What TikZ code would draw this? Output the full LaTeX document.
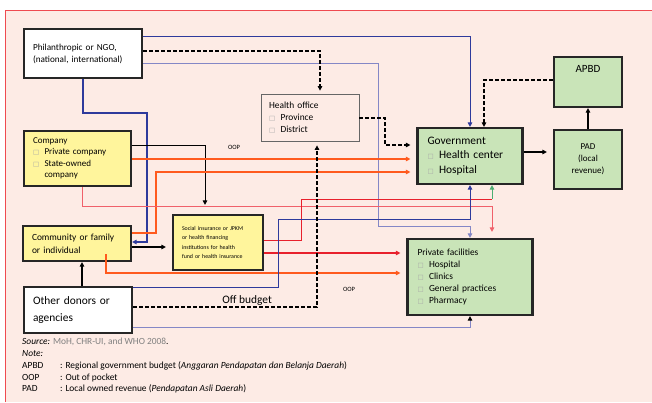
\documentclass[tikz,border=0pt]{standalone}
\usepackage{fontspec}
\setmainfont{Carlito}
\newfontfamily\symfont{DejaVu Sans}
\usetikzlibrary{arrows.meta,positioning}
\definecolor{bgpink}{HTML}{FDEBE5}
\definecolor{framered}{HTML}{EF4A50}
\definecolor{ylw}{HTML}{FFF59C}
\definecolor{grn}{HTML}{C9E4B8}
\definecolor{dblue}{HTML}{2E3A9C}
\definecolor{lblue}{HTML}{8487C6}
\definecolor{orng}{HTML}{FF5A1E}
\definecolor{rd}{HTML}{E8202C}
\definecolor{lrd}{HTML}{F0606A}
\definecolor{garrow}{HTML}{4DAE72}
\definecolor{srcgray}{HTML}{808080}
\newcommand{\chk}{\makebox[11.5pt][l]{\symfont\fontsize{6.5}{6}\selectfont\color{black!35}□}}
\newcommand{\fs}[2]{\fontsize{#1}{#2}\selectfont}

\begin{document}
\begin{tikzpicture}[x=1pt,y=-1pt,>={Triangle[length=4.5pt,width=4.5pt]},
    box/.style={draw=black!85,line width=2.2pt,inner xsep=0pt,inner ysep=1pt,align=left},
    ybox/.style={box,fill=ylw},
    gbox/.style={box,fill=grn},
    wbox/.style={box,fill=white},
    dflow/.style={dashed,dash pattern=on 4pt off 2pt,line width=1.3pt},
    shortgap/.style={shorten >=6pt},
    oop/.style={font=\fs{6.5}{7}},
    notetext/.style={anchor=base west,inner sep=0pt,font=\fs{9.4}{10}}]
  \useasboundingbox (0,0) rectangle (652,402);
  \fill[white] (0,0) rectangle (652,402);
  \fill[bgpink] (5,10) rectangle (652,402);
  \draw[framered,line width=.9pt] (5,402) -- (5,10) -- (652,10);

  \node[wbox,minimum width=118,minimum height=49,text width=100,font=\fs{9.2}{12}] (NGO) at (83,53.5)
    {Philanthropic or NGO,\\(national, international)};
  \node[box,draw=black!60,line width=.8pt,fill=bgpink,minimum width=98,minimum height=47,text width=82,font=\fs{9.4}{12}] (HO) at (310,117.5)
    {Health office\\\chk Province\\\chk District};
  \node[ybox,minimum width=107,minimum height=55,text width=89,font=\fs{9}{11.5}] (CO) at (77.5,158.5)
    {Company\\\chk Private company\\\chk State-owned\\\hspace*{11.5pt}company};
  \node[gbox,minimum width=105,minimum height=56,text width=85,font=\fs{11.4}{14.5}] (GOV) at (470,156)
    {Government\\\chk Health center\\\chk Hospital};
  \node[gbox,minimum width=68,minimum height=50,
    label={[anchor=north,yshift=-6pt,font=\fs{11}{12}]north:APBD}] (APBD) at (588,82) {};
  \node[gbox,minimum width=68,minimum height=59,text width=50,align=center,font=\fs{9}{12}] (PAD) at (588,159.5)
    {PAD\\(local\\revenue)};
  \node[ybox,minimum width=108,minimum height=35,text width=90,font=\fs{9.4}{13}] (COM) at (77,243.5)
    {Community or family\\or individual};
  \node[ybox,minimum width=90,minimum height=55,text width=72,font=\fs{5.9}{9.6}] (SI) at (218,242.5)
    {Social insurance or JPKM\\or health financing\\institutions for health\\fund or health insurance};
  \node[wbox,minimum width=108,minimum height=46,text width=90,font=\fs{11.4}{16.5}] (OD) at (78,310)
    {Other donors or\\agencies};
  \node[gbox,minimum width=125,minimum height=76,text width=105,font=\fs{9.4}{12.2}] (PF) at (470,277)
    {Private facilities\\\chk Hospital\\\chk Clinics\\\chk General practices\\\chk Pharmacy};

  \node[oop] (OOPa) at (234,147) {OOP};
  \node[oop] (OOPb) at (349,289) {OOP};
  \coordinate (SJ) at (492,199);

  \draw[dblue,->,line width=.9pt] (NGO.east |- 0,36) -| (GOV.north);
  \draw[lblue,->,line width=.9pt] (NGO.east |- 0,63) -| (378,226) -| (PF.north);
  \draw[dflow,->] (NGO.east |- 0,51) -| ([xshift=10pt,yshift=3pt]HO.north);
  \draw[dblue,->,line width=1.6pt] (NGO.south) |- (147,113) |- (COM.east |- 0,242);
  \draw[->,line width=.9pt] (CO.east |- 0,145) -| ([xshift=-13pt,yshift=9pt]SI.north);
  \draw[orng,->,line width=1.4pt,shortgap] (CO.east |- 0,159) -- (GOV.west |- 0,159);
  \draw[orng,->,line width=1.2pt,shortgap] (COM.east |- 0,233) -| (156,172) -- (GOV.west |- 0,172);
  \draw[lrd,->,line width=1pt,shortgap] ([xshift=5pt]CO.south) |- (492,206) -- (PF.north -| SJ);
  \draw[rd,line width=1pt] (SI.east |- 0,240) -| (301,199) -- (SJ);
  \draw[garrow,->,line width=1pt] (SJ) -- (GOV.south -| SJ);
  \draw[rd,->,line width=1.2pt,shortgap] (SI.east |- 0,253) -- (PF.west |- 0,253);
  \draw[orng,->,line width=1.4pt,shortgap] ([xshift=29pt,yshift=8pt]COM.south) |- (PF.west |- 0,273);
  \draw[->,line width=1.2pt,shortgap] (COM.east |- 0,247) -- (SI.west |- 0,247);
  \draw[->,line width=1.2pt] ([xshift=4pt]OD.north) -- ([xshift=5pt]COM.south);
  \draw[dblue,->,line width=.9pt] (OD.east |- 0,287) -| (278,219) -| (GOV.south);
  \draw[lblue,-{Triangle[length=4.5pt,width=4.5pt,color=black]},line width=.9pt] (OD.east |- 0,327) -| (PF.south);
  \draw[dflow,->] (OD.east |- 0,307) -| node[pos=.31,above=-2pt,font=\fs{11.4}{12}] (OFF) {Off budget}
    ([xshift=7pt,yshift=-4pt]HO.south);
  \draw[dflow,->,shortgap] (HO.east |- 0,118) -| (385,145) -- (GOV.west |- 0,145);
  \draw[dflow,->] (APBD.west |- 0,80) -| ([xshift=14pt]GOV.north);
  \draw[->,line width=1.2pt,shortgap] (GOV.east |- 0,152) -- (PAD.west |- 0,152);
  \draw[->,line width=1.2pt] (PAD.north) -- (APBD.south);

  \node[notetext] (SRC) at (22,344)
    {\textit{Source:} \textcolor{srcgray}{MoH, CHR-UI, and WHO 2008}.};
  \node[notetext] (NOTE) at (22,356) {\textit{Note:}};
  \node[notetext] (N1) at (22,368) {APBD};
  \node[notetext] (D1) at (60,368) {: Regional government budget (\textit{Anggaran Pendapatan dan Belanja Daerah})};
  \node[notetext] (N2) at (22,380) {OOP};
  \node[notetext] (D2) at (60,380) {: Out of pocket};
  \node[notetext] (N3) at (22,391) {PAD};
  \node[notetext] (D3) at (60,391) {: Local owned revenue (\textit{Pendapatan Asli Daerah})};
\end{tikzpicture}
\end{document}
